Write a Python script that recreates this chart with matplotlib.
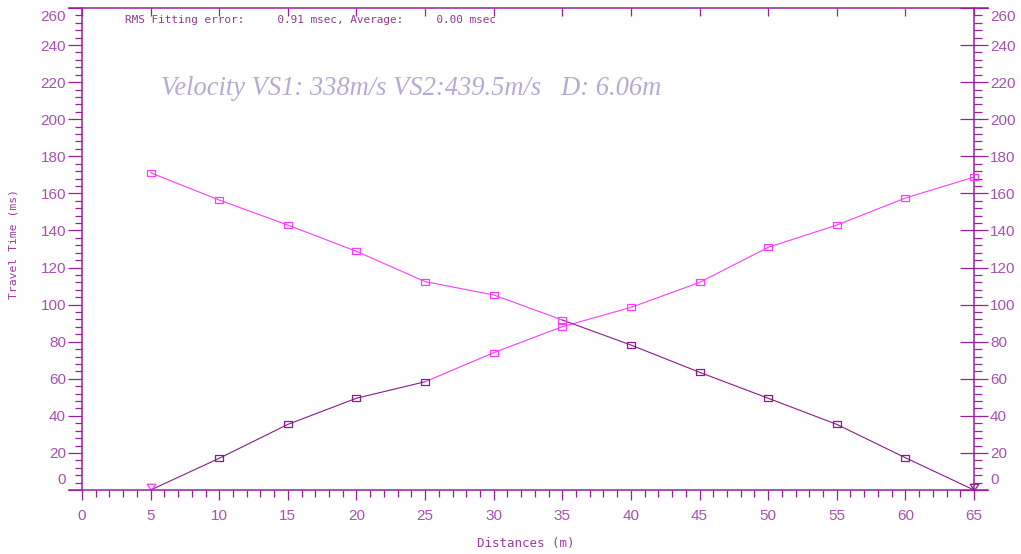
# ====================================
# 折射波初至走时曲线（正反向观测）
# ====================================

import matplotlib
matplotlib.use("Agg")
import matplotlib.pyplot as plt
from matplotlib.ticker import FixedLocator
from matplotlib.path import Path

# ====================================
# 1. 数据
# ====================================

# 检波点距离 (m)
distances = [5, 10, 15, 20, 25, 30, 35, 40, 45, 50, 55, 60, 65]

# 正向炮走时 (ms)
forward_times = [0, 17.1, 35.4, 49.5, 58.4, 74.1, 88.1, 98.5, 112.0, 130.9, 142.9, 157.5, 168.8]

# 反向炮走时 (ms)
reverse_times = [171.1, 156.4, 142.9, 128.7, 112.4, 105.2, 91.7, 78.2, 63.5, 49.5, 35.4, 17.4, 0]

# 直达波 / 折射波分界点（索引）
fwd_split = 4
rev_split = 6

# 反演结果
vs1 = 338
vs2 = 439.5
depth = 6.06
rms_error = 0.91
avg_error = 0.00

x_major = list(range(0, 66, 5))
x_minor = list(range(0, 66, 1))
y_major = list(range(0, 261, 20))
y_minor = list(range(0, 261, 4))

# ====================================
# 2. 样式
# ====================================

W, H = 1021, 554
axis_color = "#9a1f9e"
label_color = "#a552ad"
dark = "#8a1a8a"
magenta = "#ff3cff"
title_color = "#b7aad2"

rect_marker = Path([(-1, -0.7), (1, -0.7), (1, 0.7), (-1, 0.7), (-1, -0.7)])
shot_marker = Path([(-0.7, 1), (0.7, 1), (0, 0), (-0.7, 1)])

tick_font = {"family": "Liberation Sans", "size": 11}
mono = "DejaVu Sans Mono"

fig = plt.figure(figsize=(W / 100, H / 100), dpi=100)
ax = fig.add_axes([69 / W, 64 / H, 919 / W, 482 / H])

x_min, x_max = -0.947, 66.02
ax.set_xlim(x_min, x_max)
ax.set_ylim(0, 260)

# 坐标轴
ax.spines["left"].set_position(("data", 0))
ax.spines["right"].set_visible(False)
ax.spines["top"].set_visible(False)
for s in ["left", "bottom"]:
    ax.spines[s].set_color(axis_color)
    ax.spines[s].set_linewidth(1.1)

ax.xaxis.set_major_locator(FixedLocator(x_major))
ax.xaxis.set_minor_locator(FixedLocator(x_minor))
ax.set_xticklabels([str(v) for v in x_major], fontdict=tick_font)
ax.tick_params(axis="x", which="major", direction="out", length=7.2,
               width=0.9, color=axis_color, labelcolor=label_color, pad=6.5)
ax.tick_params(axis="x", which="minor", direction="out", length=5,
               width=0.9, color=axis_color)

y_labels = ["" if v in (y_major[0], y_major[-1]) else str(v) for v in y_major]
ax.yaxis.set_major_locator(FixedLocator(y_major))
ax.yaxis.set_minor_locator(FixedLocator(y_minor))
ax.set_yticklabels(y_labels, fontdict=tick_font)
ax.tick_params(axis="y", which="major", direction="out", length=10,
               width=0.9, color=axis_color, labelcolor=label_color, pad=1.5)
ax.tick_params(axis="y", which="minor", direction="out", length=5,
               width=0.9, color=axis_color)

# 右侧纵轴
right = ax.secondary_yaxis((65 - x_min) / (x_max - x_min))
right.spines["right"].set_color(axis_color)
right.spines["right"].set_linewidth(1.1)
right.yaxis.set_major_locator(FixedLocator(y_major))
right.yaxis.set_minor_locator(FixedLocator(y_minor))
right.set_yticklabels(y_labels, fontdict=tick_font)
right.tick_params(which="major", direction="inout", length=20, width=0.9,
                  color=axis_color, labelcolor=label_color, pad=1.5)
right.tick_params(which="minor", direction="out", length=5.5, width=0.9,
                  color=axis_color)

# 顶部边框
top = ax.secondary_xaxis("top")
top.spines["top"].set_color(axis_color)
top.spines["top"].set_linewidth(1.1)
top.xaxis.set_major_locator(FixedLocator(x_major))
top.xaxis.set_minor_locator(FixedLocator([]))
top.set_xticklabels([])
top.tick_params(which="major", direction="in", length=6, width=0.9,
                color=axis_color)

# 两端刻度值（避开边框）
for y_val, dy in [(y_major[0], 7.2), (y_major[-1], -6.5)]:
    ax.annotate(str(y_val), xy=(0, y_val), xytext=(-11.5, dy),
                textcoords="offset points", ha="right", va="center",
                color=label_color, annotation_clip=False, **tick_font)
    ax.annotate(str(y_val), xy=(65, y_val), xytext=(11.5, dy),
                textcoords="offset points", ha="left", va="center",
                color=label_color, annotation_clip=False, **tick_font)

# ====================================
# 3. 走时曲线
# ====================================

lw = 0.8

# 正向炮
ax.plot(distances[:fwd_split + 1], forward_times[:fwd_split + 1], color=dark, lw=lw)
ax.plot(distances[fwd_split:], forward_times[fwd_split:], color=magenta, lw=lw)
ax.plot(distances[1:fwd_split + 1], forward_times[1:fwd_split + 1], ls="none",
        marker=rect_marker, ms=6, mec=dark, mfc="none", mew=0.9)
ax.plot(distances[fwd_split + 1:], forward_times[fwd_split + 1:], ls="none",
        marker=rect_marker, ms=6, mec=magenta, mfc="none", mew=0.9)
ax.plot(distances[0], forward_times[0], ls="none", marker=shot_marker, ms=9,
        mec=magenta, mfc="none", mew=0.9, clip_on=False)

# 反向炮
ax.plot(distances[:rev_split + 1], reverse_times[:rev_split + 1], color=magenta, lw=lw)
ax.plot(distances[rev_split:], reverse_times[rev_split:], color=dark, lw=lw)
ax.plot(distances[:rev_split + 1], reverse_times[:rev_split + 1], ls="none",
        marker=rect_marker, ms=6, mec=magenta, mfc="none", mew=0.9)
ax.plot(distances[rev_split + 1:-1], reverse_times[rev_split + 1:-1], ls="none",
        marker=rect_marker, ms=6, mec=dark, mfc="none", mew=0.9)
ax.plot(distances[-1], reverse_times[-1], ls="none", marker=shot_marker, ms=9,
        mec=dark, mfc="none", mew=0.9, clip_on=False)

# ====================================
# 4. 文字
# ====================================

fig.text(125 / W, 1 - 20 / H,
         f"RMS Fitting error:     {rms_error:.2f} msec, Average:     {avg_error:.2f} msec",
         family=mono, size=7.9, color="#8c3a8c", ha="left", va="center")

fig.text(161 / W, 1 - 95 / H,
         f"Velocity VS1: {vs1}m/s VS2:{vs2}m/s   D: {depth}m",
         family="Liberation Serif", style="italic", size=19.1,
         color=title_color, ha="left", va="baseline")

fig.text(526 / W, 1 - 543 / H, "Distances (m)", family=mono, size=9,
         color="#9a3a9e", ha="center", va="center")
fig.text(14 / W, 1 - 244 / H, "Travel Time (ms)", family=mono, size=8.2,
         color="#9a3a9e", ha="center", va="center", rotation=90)

fig.savefig("out.png", dpi=100)
